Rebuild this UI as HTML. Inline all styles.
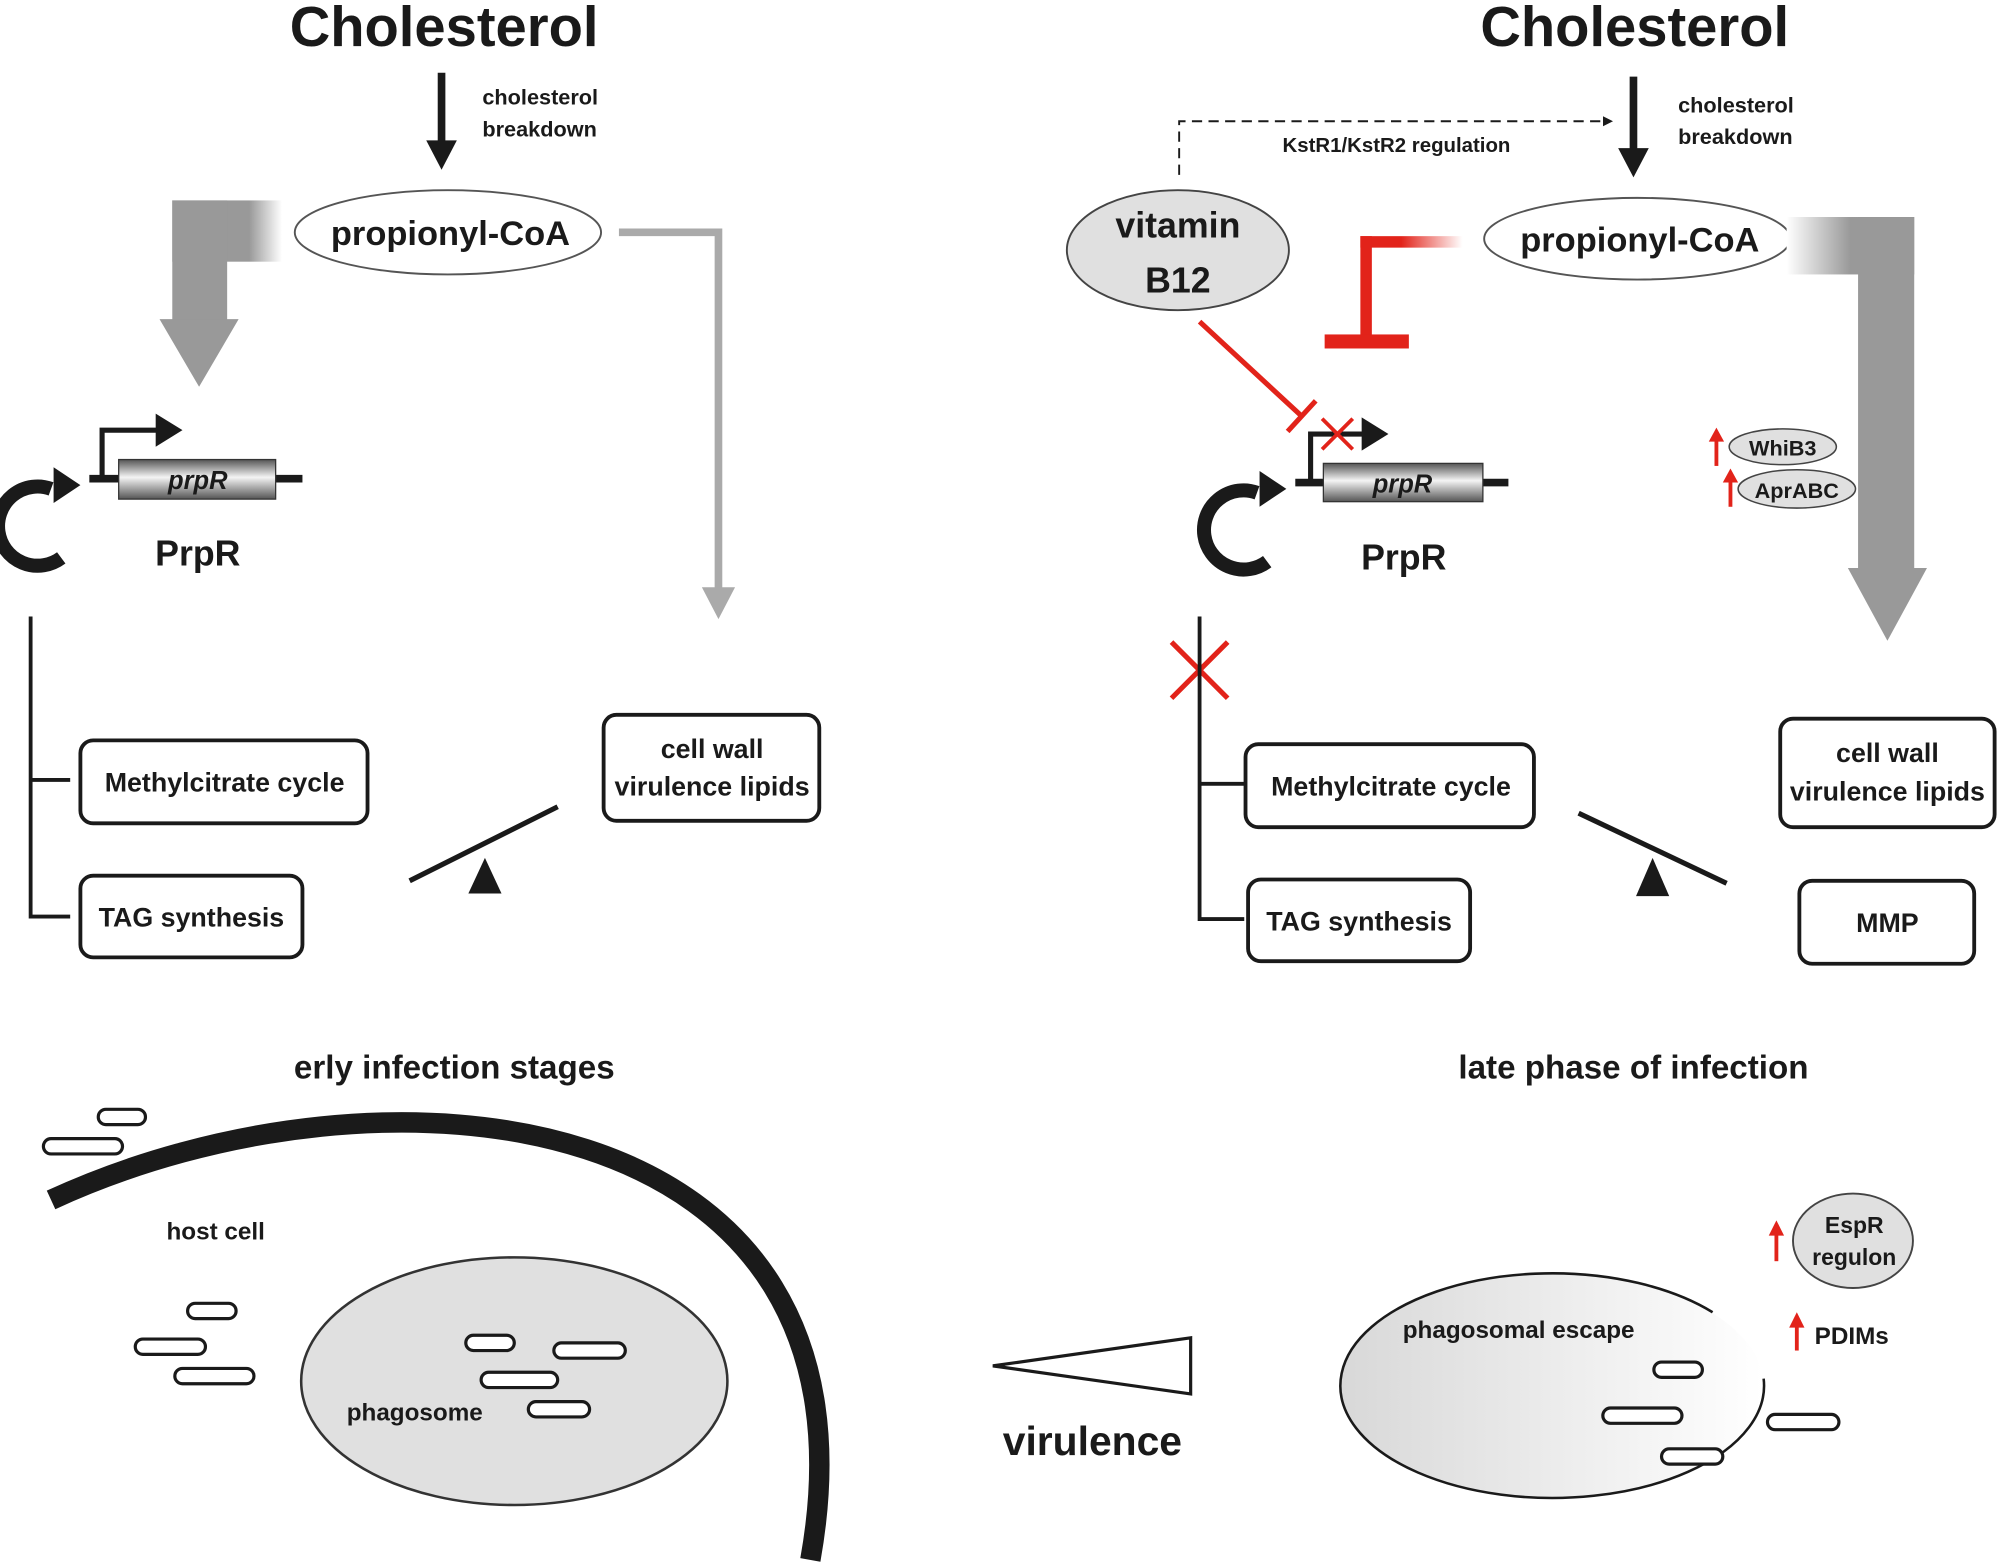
<!DOCTYPE html>
<html><head><meta charset="utf-8"><style>
html,body{margin:0;padding:0;background:#fff;}
svg{display:block;}
text{font-family:"Liberation Sans","DejaVu Sans",sans-serif;font-weight:bold;fill:#1a1a1a;}
</style></head><body>
<svg width="2001" height="1565" viewBox="0 0 1568 1226" preserveAspectRatio="none" xmlns="http://www.w3.org/2000/svg">
<defs>
<linearGradient id="cyl" x1="0" y1="0" x2="0" y2="1">
<stop offset="0" stop-color="#555"/><stop offset="0.45" stop-color="#f4f4f4"/><stop offset="1" stop-color="#555"/></linearGradient>
<linearGradient id="gl" x1="0" y1="0" x2="1" y2="0">
<stop offset="0" stop-color="#999"/><stop offset="0.7" stop-color="#999"/><stop offset="1" stop-color="#fff"/></linearGradient>
<linearGradient id="gr" x1="1" y1="0" x2="0" y2="0">
<stop offset="0" stop-color="#999"/><stop offset="0.5" stop-color="#999"/><stop offset="1" stop-color="#fff"/></linearGradient>
<linearGradient id="rg" x1="1" y1="0" x2="0" y2="0">
<stop offset="0" stop-color="#fff"/><stop offset="0.6" stop-color="#e2231a"/><stop offset="1" stop-color="#e2231a"/></linearGradient>
<linearGradient id="ph" x1="0" y1="0" x2="1" y2="0">
<stop offset="0" stop-color="#d8d8d8"/><stop offset="1" stop-color="#fff"/></linearGradient>
<marker id="ah" markerWidth="8" markerHeight="8" refX="6" refY="4" orient="auto" markerUnits="userSpaceOnUse"><path d="M0,0 L8,4 L0,8z" fill="#1a1a1a"/></marker>
</defs>

<!-- LEFT -->
<text x="348" y="36" font-size="44" text-anchor="middle">Cholesterol</text>
<line x1="346" y1="57" x2="346" y2="112" stroke="#1a1a1a" stroke-width="6"/>
<path d="M334,110 L358,110 L346,133z" fill="#1a1a1a"/>
<text x="378" y="82" font-size="17">cholesterol</text>
<text x="378" y="107" font-size="17">breakdown</text>
<ellipse cx="351" cy="182" rx="120" ry="33" fill="#fff" stroke="#555" stroke-width="1.5"/>
<text x="353" y="192" font-size="27" text-anchor="middle">propionyl-CoA</text>
<rect x="135" y="157" width="86" height="48" fill="url(#gl)"/>
<rect x="135" y="157" width="43" height="95" fill="#999"/>
<path d="M125,250 L187,250 L156,303z" fill="#999"/>
<path d="M485,182 L563,182 L563,462" fill="none" stroke="#aaa" stroke-width="6"/>
<path d="M550,460 L576,460 L563,485z" fill="#aaa"/>
<!-- gene -->
<line x1="70" y1="375" x2="237" y2="375" stroke="#1a1a1a" stroke-width="6"/>
<path d="M80,375 L80,337 L125,337" fill="none" stroke="#1a1a1a" stroke-width="4"/>
<path d="M122,324 L143,337 L122,350z" fill="#1a1a1a"/>
<rect x="93" y="360" width="123" height="31" fill="url(#cyl)" stroke="#333" stroke-width="1"/>
<text x="155" y="383" font-size="20" font-style="italic" text-anchor="middle">prpR</text>
<path d="M40,383 A31,31 0 1 0 48,437" fill="none" stroke="#1a1a1a" stroke-width="11"/>
<path d="M42,366 L63,380 L42,394z" fill="#1a1a1a"/>
<text x="155" y="443" font-size="28" text-anchor="middle">PrpR</text>
<path d="M24,483 L24,718 L55,718 M24,611 L55,611" fill="none" stroke="#1a1a1a" stroke-width="3"/>
<rect x="63" y="580" width="225" height="65" rx="10" fill="#fff" stroke="#1a1a1a" stroke-width="3"/>
<text x="176" y="620" font-size="21" text-anchor="middle">Methylcitrate cycle</text>
<rect x="63" y="686" width="174" height="64" rx="10" fill="#fff" stroke="#1a1a1a" stroke-width="3"/>
<text x="150" y="726" font-size="21" text-anchor="middle">TAG synthesis</text>
<rect x="473" y="560" width="169" height="83" rx="10" fill="#fff" stroke="#1a1a1a" stroke-width="3"/>
<text x="558" y="594" font-size="21" text-anchor="middle">cell wall</text>
<text x="558" y="623" font-size="21" text-anchor="middle">virulence lipids</text>
<line x1="321" y1="690" x2="437" y2="632" stroke="#1a1a1a" stroke-width="4"/>
<path d="M367,700 L393,700 L380,672z" fill="#1a1a1a"/>
<text x="356" y="845" font-size="26" text-anchor="middle">erly infection stages</text>

<!-- RIGHT -->
<text x="1281" y="36" font-size="44" text-anchor="middle">Cholesterol</text>
<line x1="1280" y1="60" x2="1280" y2="118" stroke="#1a1a1a" stroke-width="6"/>
<path d="M1268,116 L1292,116 L1280,139z" fill="#1a1a1a"/>
<text x="1315" y="88" font-size="17">cholesterol</text>
<text x="1315" y="113" font-size="17">breakdown</text>
<path d="M924,137 L924,95 L1262,95" fill="none" stroke="#1a1a1a" stroke-width="1.5" stroke-dasharray="8,5" marker-end="url(#ah)"/>
<text x="1005" y="119" font-size="16">KstR1/KstR2 regulation</text>
<ellipse cx="923" cy="196" rx="87" ry="47" fill="#e0e0e0" stroke="#444" stroke-width="1.5"/>
<text x="923" y="186" font-size="28" text-anchor="middle">vitamin</text>
<text x="923" y="229" font-size="28" text-anchor="middle">B12</text>
<ellipse cx="1283" cy="187" rx="120" ry="32" fill="#fff" stroke="#555" stroke-width="1.5"/>
<text x="1285" y="197" font-size="27" text-anchor="middle">propionyl-CoA</text>
<rect x="1066" y="185" width="80" height="9" fill="url(#rg)"/>
<rect x="1066" y="185" width="9" height="80" fill="#e2231a"/>
<rect x="1038" y="262" width="66" height="11" fill="#e2231a"/>
<line x1="940" y1="252" x2="1020" y2="326" stroke="#e2231a" stroke-width="4"/>
<line x1="1009" y1="338" x2="1031" y2="314" stroke="#e2231a" stroke-width="4"/>
<line x1="1015" y1="378" x2="1182" y2="378" stroke="#1a1a1a" stroke-width="6"/>
<path d="M1027,378 L1027,340 L1070,340" fill="none" stroke="#1a1a1a" stroke-width="4"/>
<path d="M1067,327 L1088,340 L1067,353z" fill="#1a1a1a"/>
<path d="M1036,328 L1060,352 M1060,328 L1036,352" stroke="#e2231a" stroke-width="3"/>
<rect x="1037" y="363" width="125" height="30" fill="url(#cyl)" stroke="#333" stroke-width="1"/>
<text x="1099" y="386" font-size="20" font-style="italic" text-anchor="middle">prpR</text>
<path d="M985,386 A31,31 0 1 0 993,440" fill="none" stroke="#1a1a1a" stroke-width="11"/>
<path d="M987,369 L1008,383 L987,397z" fill="#1a1a1a"/>
<text x="1100" y="446" font-size="28" text-anchor="middle">PrpR</text>
<rect x="1400" y="170" width="100" height="45" fill="url(#gr)"/>
<rect x="1456" y="170" width="44" height="277" fill="#999"/>
<path d="M1448,445 L1510,445 L1479,502z" fill="#999"/>
<ellipse cx="1397" cy="350" rx="42" ry="14" fill="#e0e0e0" stroke="#444" stroke-width="1.2"/>
<text x="1397" y="357" font-size="17" text-anchor="middle">WhiB3</text>
<ellipse cx="1408" cy="383" rx="46" ry="15" fill="#e0e0e0" stroke="#444" stroke-width="1.2"/>
<text x="1408" y="390" font-size="17" text-anchor="middle">AprABC</text>
<line x1="1345" y1="365" x2="1345" y2="344" stroke="#e2231a" stroke-width="3"/>
<path d="M1339,346 L1351,346 L1345,335z" fill="#e2231a"/>
<line x1="1356" y1="397" x2="1356" y2="376" stroke="#e2231a" stroke-width="3"/>
<path d="M1350,378 L1362,378 L1356,367z" fill="#e2231a"/>
<path d="M918,503 L962,547 M962,503 L918,547" stroke="#e2231a" stroke-width="4"/>
<path d="M940,483 L940,720 L975,720 M940,614 L975,614" fill="none" stroke="#1a1a1a" stroke-width="3"/>
<rect x="976" y="583" width="226" height="65" rx="10" fill="#fff" stroke="#1a1a1a" stroke-width="3"/>
<text x="1090" y="623" font-size="21" text-anchor="middle">Methylcitrate cycle</text>
<rect x="978" y="689" width="174" height="64" rx="10" fill="#fff" stroke="#1a1a1a" stroke-width="3"/>
<text x="1065" y="729" font-size="21" text-anchor="middle">TAG synthesis</text>
<rect x="1395" y="563" width="168" height="85" rx="10" fill="#fff" stroke="#1a1a1a" stroke-width="3"/>
<text x="1479" y="597" font-size="21" text-anchor="middle">cell wall</text>
<text x="1479" y="627" font-size="21" text-anchor="middle">virulence lipids</text>
<rect x="1410" y="690" width="137" height="65" rx="10" fill="#fff" stroke="#1a1a1a" stroke-width="3"/>
<text x="1479" y="730" font-size="21" text-anchor="middle">MMP</text>
<line x1="1237" y1="637" x2="1353" y2="692" stroke="#1a1a1a" stroke-width="4"/>
<path d="M1282,702 L1308,702 L1295,672z" fill="#1a1a1a"/>
<text x="1280" y="845" font-size="26" text-anchor="middle">late phase of infection</text>

<!-- BOTTOM LEFT -->
<path d="M40,940 C300,820 700,860 635,1222" fill="none" stroke="#1a1a1a" stroke-width="16"/>
<text x="169" y="971" font-size="19" text-anchor="middle">host cell</text>
<ellipse cx="403" cy="1082" rx="167" ry="97" fill="#e0e0e0" stroke="#333" stroke-width="2"/>
<text x="325" y="1113" font-size="19" text-anchor="middle">phagosome</text>
<g fill="#fff" stroke="#1a1a1a" stroke-width="2.5">
<rect x="77" y="869" width="37" height="12" rx="6"/>
<rect x="34" y="892" width="62" height="12" rx="6"/>
<rect x="147" y="1021" width="38" height="12" rx="6"/>
<rect x="106" y="1049" width="55" height="12" rx="6"/>
<rect x="137" y="1072" width="62" height="12" rx="6"/>
<rect x="365" y="1046" width="38" height="12" rx="6"/>
<rect x="434" y="1052" width="56" height="12" rx="6"/>
<rect x="377" y="1075" width="60" height="12" rx="6"/>
<rect x="414" y="1098" width="48" height="12" rx="6"/>
</g>
<path d="M778,1070 L933,1048 L933,1092z" fill="#fff" stroke="#1a1a1a" stroke-width="2.5"/>
<text x="856" y="1140" font-size="32" text-anchor="middle">virulence</text>

<!-- BOTTOM RIGHT -->
<ellipse cx="1216" cy="1086" rx="166" ry="88" fill="url(#ph)"/>
<path d="M1382,1080 A166,88 0 1 1 1342,1028" fill="none" stroke="#1a1a1a" stroke-width="2"/>
<text x="1190" y="1048" font-size="19" text-anchor="middle">phagosomal escape</text>
<g fill="#fff" stroke="#1a1a1a" stroke-width="2.5">
<rect x="1296" y="1067" width="38" height="12" rx="6"/>
<rect x="1256" y="1103" width="62" height="12" rx="6"/>
<rect x="1302" y="1135" width="48" height="12" rx="6"/>
<rect x="1385" y="1108" width="56" height="12" rx="6"/>
</g>
<ellipse cx="1452" cy="972" rx="47" ry="37" fill="#e0e0e0" stroke="#444" stroke-width="1.5"/>
<text x="1453" y="966" font-size="18" text-anchor="middle">EspR</text>
<text x="1453" y="991" font-size="18" text-anchor="middle">regulon</text>
<line x1="1392" y1="988" x2="1392" y2="966" stroke="#e2231a" stroke-width="3"/>
<path d="M1386,968 L1398,968 L1392,956z" fill="#e2231a"/>
<line x1="1408" y1="1058" x2="1408" y2="1038" stroke="#e2231a" stroke-width="3"/>
<path d="M1402,1040 L1414,1040 L1408,1028z" fill="#e2231a"/>
<text x="1422" y="1053" font-size="19">PDIMs</text>
</svg>
</body></html>
